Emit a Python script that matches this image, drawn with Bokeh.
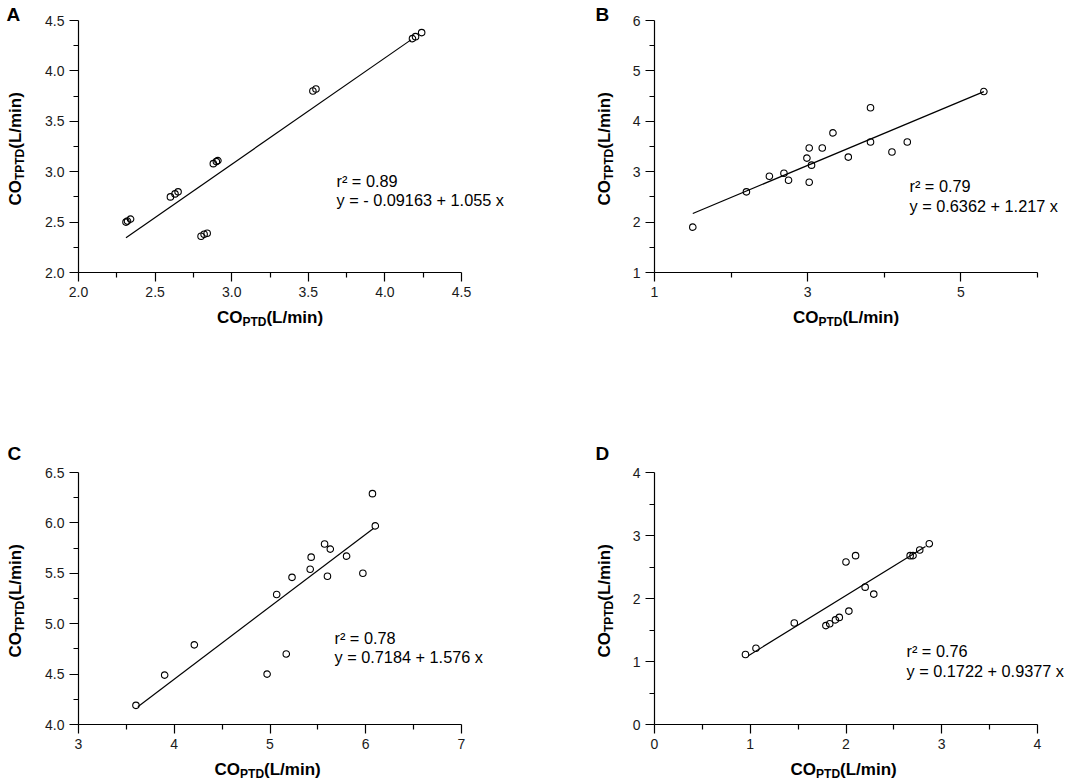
import math
from bokeh.plotting import figure
from bokeh.models import Range1d, FixedTicker, PrintfTickFormatter, Label
from bokeh.layouts import column, row
from bokeh.embed import file_html
from bokeh.resources import INLINE

# ---------------- data ----------------
A_x = [2.31, 2.32, 2.34, 2.60, 2.63, 2.65, 2.80, 2.82, 2.84, 2.88, 2.90, 2.91, 3.53, 3.55, 4.18, 4.20, 4.24]
A_y = [2.50, 2.51, 2.53, 2.75, 2.78, 2.80, 2.36, 2.38, 2.39, 3.08, 3.10, 3.11, 3.80, 3.82, 4.32, 4.34, 4.38]

B_x = [1.50, 2.20, 2.50, 2.69, 2.75, 2.99, 3.02, 3.05, 3.02, 3.19, 3.33, 3.53, 3.82, 3.82, 4.10, 4.30, 5.30]
B_y = [1.90, 2.60, 2.91, 2.97, 2.83, 3.27, 3.47, 3.13, 2.79, 3.47, 3.77, 3.29, 4.27, 3.59, 3.39, 3.59, 4.59]

C_x = [3.60, 3.90, 4.21, 4.97, 5.07, 5.17, 5.23, 5.42, 5.43, 5.57, 5.60, 5.63, 5.80, 5.97, 6.07, 6.10]
C_y = [4.19, 4.49, 4.79, 4.50, 5.29, 4.70, 5.46, 5.54, 5.66, 5.79, 5.47, 5.74, 5.67, 5.50, 6.29, 5.97]

D_x = [0.95, 1.06, 1.46, 1.79, 1.83, 1.89, 1.93, 2.00, 2.03, 2.10, 2.20, 2.29, 2.67, 2.70, 2.77, 2.87]
D_y = [1.11, 1.21, 1.61, 1.57, 1.60, 1.66, 1.70, 2.58, 1.80, 2.68, 2.18, 2.07, 2.68, 2.68, 2.77, 2.87]

# fitted lines as drawn (intercept, slope, x start, x end)
fit_intercept = [-0.09163, 1.217, 1.576, 0.1722]
fit_slope = [1.055, 0.6362, 0.7184, 0.9377]
fit_x_start = [2.31, 1.50, 3.62, 0.98]
fit_x_end = [4.17, 5.30, 6.08, 2.83]

# annotation texts as printed
r2_text = ["r\u00b2 = 0.89", "r\u00b2 = 0.79", "r\u00b2 = 0.78", "r\u00b2 = 0.76"]
eq_text = ["y = - 0.09163 + 1.055 x", "y =  0.6362 + 1.217 x",
           "y = 0.7184 + 1.576 x", "y = 0.1722 + 0.9377 x"]

letters = ["A", "B", "C", "D"]

# axes
x_ranges = [(2.0, 4.5), (1, 6), (3, 7), (0, 4)]
y_ranges = [(2.0, 4.5), (1, 6), (4.0, 6.5), (0, 4)]
x_major = [[2.0, 2.5, 3.0, 3.5, 4.0, 4.5], [1, 3, 5], [3, 4, 5, 6, 7], [0, 1, 2, 3, 4]]
x_minor = [[2.25, 2.75, 3.25, 3.75, 4.25], [2, 4, 6], [3.5, 4.5, 5.5, 6.5], [0.5, 1.5, 2.5, 3.5]]
y_major = [[2.0, 2.5, 3.0, 3.5, 4.0, 4.5], [1, 2, 3, 4, 5, 6], [4.0, 4.5, 5.0, 5.5, 6.0, 6.5], [0, 1, 2, 3, 4]]
y_minor = [[2.25, 2.75, 3.25, 3.75, 4.25], [1.5, 2.5, 3.5, 4.5, 5.5],
           [4.25, 4.75, 5.25, 5.75, 6.25], [0.5, 1.5, 2.5, 3.5]]
x_fmt = ["%.1f", "%d", "%d", "%d"]
y_fmt = ["%.1f", "%d", "%.1f", "%d"]
x_title_sep = ["", "", " ", " "]

# ---------------- styling / layout ----------------
FONT = "Liberation Sans"
WID = {'C': 722, 'O': 778, 'P': 667, 'T': 611, 'D': 722, ' ': 278, '(': 333,
       'L': 611, '/': 278, 'm': 889, 'i': 278, 'n': 611, ')': 333}


def tw(s, size):
    return sum(WID[c] for c in s) * size / 1000.0


MAIN = 17
SUB = 12
SUB_DROP = 3
ANN = 16.3
LET = 19
CAPC = 0.36          # label anchor sits at the cap centre: baseline - CAPC*size
FRAME_W = 383
FRAME_H = 252
BORDER_L = 38
BORDER_B = 33

# geometry (pixels) per panel
geom = [
    dict(sw=40, mw=496, top=20, bh=115, letx=6, letb=21, ytb=21, xtb=18),
    dict(sw=80, mw=455, top=20, bh=115, letx=59, letb=21, ytb=74, xtb=18),
    dict(sw=40, mw=496, top=52, bh=25, letx=7, letb=40, ytb=21, xtb=18),
    dict(sw=80, mw=455, top=52, bh=25, letx=59, letb=40, ytb=74, xtb=18),
]
# annotation anchor: px right of frame left, baselines in px below frame top
ann_px = [258, 255, 256, 252]
ann_b1 = [166, 171, 171, 184]
ann_b2 = [185, 191, 190, 204]

datasets = [(A_x, A_y), (B_x, B_y), (C_x, C_y), (D_x, D_y)]


def lab(p, x, y, text, size, bold=False, angle=0):
    p.add_layout(Label(x=x, y=y, x_units="data", y_units="data", text=text,
                       angle=angle, text_font=FONT, text_font_size=f"{size}px",
                       text_font_style="bold" if bold else "normal",
                       text_color="black", text_align="left",
                       text_baseline="middle"))


def strip(w, h, bottom):
    # frame covers the strip (apart from an aligned bottom border): data = pixels from top-left
    s = figure(width=w, height=h, output_backend="svg", toolbar_location=None,
               x_range=Range1d(0, w), y_range=Range1d(h - bottom, 0),
               x_axis_type=None, y_axis_type=None, title=None,
               min_border_left=0, min_border_right=0, min_border_top=0,
               min_border_bottom=bottom)
    s.outline_line_color = None
    s.background_fill_color = "white"
    s.border_fill_color = "white"
    return s


panels = []
for i in range(4):
    g = geom[i]
    x0, x1 = x_ranges[i]
    y0, y1 = y_ranges[i]
    ph = g["top"] + FRAME_H + BORDER_B
    fw = g["mw"] - BORDER_L
    x_end = x0 + (x1 - x0) * fw / FRAME_W
    y_end = y1 + (y1 - y0) * g["top"] / FRAME_H
    p = figure(width=g["mw"], height=ph, output_backend="svg", toolbar_location=None,
               x_range=Range1d(x0, x_end), y_range=Range1d(y0, y_end), title=None,
               min_border_left=BORDER_L, min_border_right=0,
               min_border_top=0, min_border_bottom=BORDER_B)
    p.outline_line_color = None
    p.xgrid.visible = False
    p.ygrid.visible = False
    p.background_fill_color = "white"
    p.border_fill_color = "white"

    p.xaxis.ticker = FixedTicker(ticks=x_major[i], minor_ticks=x_minor[i])
    p.yaxis.ticker = FixedTicker(ticks=y_major[i], minor_ticks=y_minor[i])
    p.xaxis.formatter = PrintfTickFormatter(format=x_fmt[i])
    p.yaxis.formatter = PrintfTickFormatter(format=y_fmt[i])
    p.xaxis.bounds = (x0, x1)
    p.yaxis.bounds = (y0, y1)
    for ax in (p.xaxis[0], p.yaxis[0]):
        ax.axis_line_color = "black"
        ax.axis_line_width = 1.2
        ax.major_tick_line_color = "black"
        ax.minor_tick_line_color = "black"
        ax.major_tick_line_width = 1.2
        ax.minor_tick_line_width = 1.2
        ax.major_tick_out = 9
        ax.major_tick_in = 0
        ax.minor_tick_out = 5
        ax.minor_tick_in = 0
        ax.major_label_text_font = FONT
        ax.major_label_text_font_size = "14px"
        ax.major_label_text_color = "#1a1a1a"
        ax.major_label_standoff = 5

    xs, ys = datasets[i]
    fx = [fit_x_start[i], fit_x_end[i]]
    fy = [fit_intercept[i] + fit_slope[i] * v for v in fx]
    p.line(fx, fy, line_color="black", line_width=1.2)
    p.scatter(xs, ys, marker="circle", size=6.5, fill_color=None,
              line_color="black", line_width=1.1)

    # annotation text (pixel offsets converted through the ranges)
    ux = (x1 - x0) / FRAME_W
    uy = (y1 - y0) / FRAME_H
    axx = x0 + ann_px[i] * ux
    lab(p, axx, y1 - (ann_b1[i] - CAPC * ANN) * uy, r2_text[i], ANN)
    lab(p, axx, y1 - (ann_b2[i] - CAPC * ANN) * uy, eq_text[i], ANN)

    # left strip: panel letter + rotated y title
    sl = strip(g["sw"], ph, BORDER_B)
    lab(sl, g["letx"], g["letb"] - CAPC * LET, letters[i], LET, bold=True)
    tail = " (L/min)"
    W = tw("CO", MAIN) + tw("TPTD", SUB) + tw(tail, MAIN)
    cy = g["top"] + FRAME_H / 2
    cur = cy + W / 2
    ang = math.pi / 2
    xm = g["ytb"] - CAPC * MAIN
    xs_ = g["ytb"] + SUB_DROP - CAPC * SUB
    lab(sl, xm, cur, "CO", MAIN, True, angle=ang)
    cur -= tw("CO", MAIN)
    lab(sl, xs_, cur, "TPTD", SUB, True, angle=ang)
    cur -= tw("TPTD", SUB)
    lab(sl, xm, cur, tail, MAIN, True, angle=ang)

    # bottom strip: x title
    sb = strip(g["sw"] + g["mw"], g["bh"], 0)
    tail = x_title_sep[i] + "(L/min)"
    W = tw("CO", MAIN) + tw("PTD", SUB) + tw(tail, MAIN)
    cx = g["sw"] + BORDER_L + FRAME_W / 2
    cur = cx - W / 2
    ym = g["xtb"] - CAPC * MAIN
    ys_ = g["xtb"] + SUB_DROP - CAPC * SUB
    lab(sb, cur, ym, "CO", MAIN, True)
    cur += tw("CO", MAIN)
    lab(sb, cur, ys_, "PTD", SUB, True)
    cur += tw("PTD", SUB)
    lab(sb, cur, ym, tail, MAIN, True)

    panels.append(column(row(sl, p), sb))

layout = column(row(panels[0], panels[1]), row(panels[2], panels[3]))
open("out.html", "w").write(file_html(layout, INLINE))
